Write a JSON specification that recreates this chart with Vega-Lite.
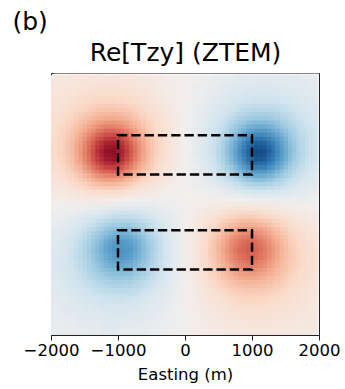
{
"$schema": "https://vega.github.io/schema/vega-lite/v6.json",
"width": 268,
"height": 262,
"autosize": {"type": "none"},
"padding": {"left": 51, "top": 73, "right": 26, "bottom": 54},
"background": "white",
"config": {"view": {"stroke": "#222", "strokeWidth": 1}, "font": "DejaVu Sans"},
"resolve": {"axis": {"x": "independent"}},
"datasets": {"grid": [
{"x":-1937.5,"y":1937.5,"v":-0.06},{"x":-1812.5,"y":1937.5,"v":-0.07},{"x":-1687.5,"y":1937.5,"v":-0.08},{"x":-1562.5,"y":1937.5,"v":-0.08},{"x":-1437.5,"y":1937.5,"v":-0.09},{"x":-1312.5,"y":1937.5,"v":-0.09},{"x":-1187.5,"y":1937.5,"v":-0.09},{"x":-1062.5,"y":1937.5,"v":-0.09},{"x":-937.5,"y":1937.5,"v":-0.09},{"x":-812.5,"y":1937.5,"v":-0.08},{"x":-687.5,"y":1937.5,"v":-0.07},{"x":-562.5,"y":1937.5,"v":-0.06},{"x":-437.5,"y":1937.5,"v":-0.05},{"x":-312.5,"y":1937.5,"v":-0.03},{"x":-187.5,"y":1937.5,"v":-0.02},{"x":-62.5,"y":1937.5,"v":-0.01},{"x":62.5,"y":1937.5,"v":0.01},{"x":187.5,"y":1937.5,"v":0.02},{"x":312.5,"y":1937.5,"v":0.03},{"x":437.5,"y":1937.5,"v":0.05},{"x":562.5,"y":1937.5,"v":0.06},{"x":687.5,"y":1937.5,"v":0.07},{"x":812.5,"y":1937.5,"v":0.08},{"x":937.5,"y":1937.5,"v":0.09},{"x":1062.5,"y":1937.5,"v":0.09},{"x":1187.5,"y":1937.5,"v":0.09},{"x":1312.5,"y":1937.5,"v":0.09},{"x":1437.5,"y":1937.5,"v":0.09},{"x":1562.5,"y":1937.5,"v":0.08},{"x":1687.5,"y":1937.5,"v":0.08},{"x":1812.5,"y":1937.5,"v":0.07},{"x":1937.5,"y":1937.5,"v":0.06},
{"x":-1937.5,"y":1812.5,"v":-0.07},{"x":-1812.5,"y":1812.5,"v":-0.08},{"x":-1687.5,"y":1812.5,"v":-0.09},{"x":-1562.5,"y":1812.5,"v":-0.1},{"x":-1437.5,"y":1812.5,"v":-0.11},{"x":-1312.5,"y":1812.5,"v":-0.12},{"x":-1187.5,"y":1812.5,"v":-0.12},{"x":-1062.5,"y":1812.5,"v":-0.12},{"x":-937.5,"y":1812.5,"v":-0.11},{"x":-812.5,"y":1812.5,"v":-0.1},{"x":-687.5,"y":1812.5,"v":-0.09},{"x":-562.5,"y":1812.5,"v":-0.08},{"x":-437.5,"y":1812.5,"v":-0.06},{"x":-312.5,"y":1812.5,"v":-0.04},{"x":-187.5,"y":1812.5,"v":-0.03},{"x":-62.5,"y":1812.5,"v":-0.01},{"x":62.5,"y":1812.5,"v":0.01},{"x":187.5,"y":1812.5,"v":0.03},{"x":312.5,"y":1812.5,"v":0.04},{"x":437.5,"y":1812.5,"v":0.06},{"x":562.5,"y":1812.5,"v":0.08},{"x":687.5,"y":1812.5,"v":0.09},{"x":812.5,"y":1812.5,"v":0.1},{"x":937.5,"y":1812.5,"v":0.11},{"x":1062.5,"y":1812.5,"v":0.12},{"x":1187.5,"y":1812.5,"v":0.12},{"x":1312.5,"y":1812.5,"v":0.12},{"x":1437.5,"y":1812.5,"v":0.11},{"x":1562.5,"y":1812.5,"v":0.1},{"x":1687.5,"y":1812.5,"v":0.09},{"x":1812.5,"y":1812.5,"v":0.08},{"x":1937.5,"y":1812.5,"v":0.07},
{"x":-1937.5,"y":1687.5,"v":-0.09},{"x":-1812.5,"y":1687.5,"v":-0.1},{"x":-1687.5,"y":1687.5,"v":-0.11},{"x":-1562.5,"y":1687.5,"v":-0.13},{"x":-1437.5,"y":1687.5,"v":-0.14},{"x":-1312.5,"y":1687.5,"v":-0.15},{"x":-1187.5,"y":1687.5,"v":-0.16},{"x":-1062.5,"y":1687.5,"v":-0.15},{"x":-937.5,"y":1687.5,"v":-0.15},{"x":-812.5,"y":1687.5,"v":-0.13},{"x":-687.5,"y":1687.5,"v":-0.12},{"x":-562.5,"y":1687.5,"v":-0.1},{"x":-437.5,"y":1687.5,"v":-0.07},{"x":-312.5,"y":1687.5,"v":-0.05},{"x":-187.5,"y":1687.5,"v":-0.03},{"x":-62.5,"y":1687.5,"v":-0.01},{"x":62.5,"y":1687.5,"v":0.01},{"x":187.5,"y":1687.5,"v":0.03},{"x":312.5,"y":1687.5,"v":0.05},{"x":437.5,"y":1687.5,"v":0.07},{"x":562.5,"y":1687.5,"v":0.1},{"x":687.5,"y":1687.5,"v":0.12},{"x":812.5,"y":1687.5,"v":0.13},{"x":937.5,"y":1687.5,"v":0.15},{"x":1062.5,"y":1687.5,"v":0.15},{"x":1187.5,"y":1687.5,"v":0.16},{"x":1312.5,"y":1687.5,"v":0.15},{"x":1437.5,"y":1687.5,"v":0.14},{"x":1562.5,"y":1687.5,"v":0.13},{"x":1687.5,"y":1687.5,"v":0.11},{"x":1812.5,"y":1687.5,"v":0.1},{"x":1937.5,"y":1687.5,"v":0.09},
{"x":-1937.5,"y":1562.5,"v":-0.1},{"x":-1812.5,"y":1562.5,"v":-0.12},{"x":-1687.5,"y":1562.5,"v":-0.14},{"x":-1562.5,"y":1562.5,"v":-0.16},{"x":-1437.5,"y":1562.5,"v":-0.18},{"x":-1312.5,"y":1562.5,"v":-0.2},{"x":-1187.5,"y":1562.5,"v":-0.2},{"x":-1062.5,"y":1562.5,"v":-0.2},{"x":-937.5,"y":1562.5,"v":-0.19},{"x":-812.5,"y":1562.5,"v":-0.17},{"x":-687.5,"y":1562.5,"v":-0.15},{"x":-562.5,"y":1562.5,"v":-0.12},{"x":-437.5,"y":1562.5,"v":-0.09},{"x":-312.5,"y":1562.5,"v":-0.07},{"x":-187.5,"y":1562.5,"v":-0.04},{"x":-62.5,"y":1562.5,"v":-0.01},{"x":62.5,"y":1562.5,"v":0.01},{"x":187.5,"y":1562.5,"v":0.04},{"x":312.5,"y":1562.5,"v":0.07},{"x":437.5,"y":1562.5,"v":0.09},{"x":562.5,"y":1562.5,"v":0.12},{"x":687.5,"y":1562.5,"v":0.15},{"x":812.5,"y":1562.5,"v":0.17},{"x":937.5,"y":1562.5,"v":0.19},{"x":1062.5,"y":1562.5,"v":0.2},{"x":1187.5,"y":1562.5,"v":0.2},{"x":1312.5,"y":1562.5,"v":0.2},{"x":1437.5,"y":1562.5,"v":0.18},{"x":1562.5,"y":1562.5,"v":0.16},{"x":1687.5,"y":1562.5,"v":0.14},{"x":1812.5,"y":1562.5,"v":0.12},{"x":1937.5,"y":1562.5,"v":0.1},
{"x":-1937.5,"y":1437.5,"v":-0.12},{"x":-1812.5,"y":1437.5,"v":-0.14},{"x":-1687.5,"y":1437.5,"v":-0.17},{"x":-1562.5,"y":1437.5,"v":-0.2},{"x":-1437.5,"y":1437.5,"v":-0.23},{"x":-1312.5,"y":1437.5,"v":-0.26},{"x":-1187.5,"y":1437.5,"v":-0.27},{"x":-1062.5,"y":1437.5,"v":-0.27},{"x":-937.5,"y":1437.5,"v":-0.26},{"x":-812.5,"y":1437.5,"v":-0.23},{"x":-687.5,"y":1437.5,"v":-0.19},{"x":-562.5,"y":1437.5,"v":-0.15},{"x":-437.5,"y":1437.5,"v":-0.12},{"x":-312.5,"y":1437.5,"v":-0.08},{"x":-187.5,"y":1437.5,"v":-0.05},{"x":-62.5,"y":1437.5,"v":-0.02},{"x":62.5,"y":1437.5,"v":0.02},{"x":187.5,"y":1437.5,"v":0.05},{"x":312.5,"y":1437.5,"v":0.08},{"x":437.5,"y":1437.5,"v":0.12},{"x":562.5,"y":1437.5,"v":0.15},{"x":687.5,"y":1437.5,"v":0.19},{"x":812.5,"y":1437.5,"v":0.23},{"x":937.5,"y":1437.5,"v":0.26},{"x":1062.5,"y":1437.5,"v":0.27},{"x":1187.5,"y":1437.5,"v":0.27},{"x":1312.5,"y":1437.5,"v":0.26},{"x":1437.5,"y":1437.5,"v":0.23},{"x":1562.5,"y":1437.5,"v":0.2},{"x":1687.5,"y":1437.5,"v":0.17},{"x":1812.5,"y":1437.5,"v":0.14},{"x":1937.5,"y":1437.5,"v":0.12},
{"x":-1937.5,"y":1312.5,"v":-0.13},{"x":-1812.5,"y":1312.5,"v":-0.16},{"x":-1687.5,"y":1312.5,"v":-0.2},{"x":-1562.5,"y":1312.5,"v":-0.25},{"x":-1437.5,"y":1312.5,"v":-0.29},{"x":-1312.5,"y":1312.5,"v":-0.34},{"x":-1187.5,"y":1312.5,"v":-0.36},{"x":-1062.5,"y":1312.5,"v":-0.36},{"x":-937.5,"y":1312.5,"v":-0.34},{"x":-812.5,"y":1312.5,"v":-0.3},{"x":-687.5,"y":1312.5,"v":-0.24},{"x":-562.5,"y":1312.5,"v":-0.19},{"x":-437.5,"y":1312.5,"v":-0.14},{"x":-312.5,"y":1312.5,"v":-0.1},{"x":-187.5,"y":1312.5,"v":-0.06},{"x":-62.5,"y":1312.5,"v":-0.02},{"x":62.5,"y":1312.5,"v":0.02},{"x":187.5,"y":1312.5,"v":0.06},{"x":312.5,"y":1312.5,"v":0.1},{"x":437.5,"y":1312.5,"v":0.14},{"x":562.5,"y":1312.5,"v":0.19},{"x":687.5,"y":1312.5,"v":0.24},{"x":812.5,"y":1312.5,"v":0.3},{"x":937.5,"y":1312.5,"v":0.34},{"x":1062.5,"y":1312.5,"v":0.36},{"x":1187.5,"y":1312.5,"v":0.36},{"x":1312.5,"y":1312.5,"v":0.34},{"x":1437.5,"y":1312.5,"v":0.29},{"x":1562.5,"y":1312.5,"v":0.25},{"x":1687.5,"y":1312.5,"v":0.2},{"x":1812.5,"y":1312.5,"v":0.16},{"x":1937.5,"y":1312.5,"v":0.13},
{"x":-1937.5,"y":1187.5,"v":-0.15},{"x":-1812.5,"y":1187.5,"v":-0.19},{"x":-1687.5,"y":1187.5,"v":-0.24},{"x":-1562.5,"y":1187.5,"v":-0.3},{"x":-1437.5,"y":1187.5,"v":-0.37},{"x":-1312.5,"y":1187.5,"v":-0.44},{"x":-1187.5,"y":1187.5,"v":-0.48},{"x":-1062.5,"y":1187.5,"v":-0.49},{"x":-937.5,"y":1187.5,"v":-0.45},{"x":-812.5,"y":1187.5,"v":-0.38},{"x":-687.5,"y":1187.5,"v":-0.31},{"x":-562.5,"y":1187.5,"v":-0.23},{"x":-437.5,"y":1187.5,"v":-0.17},{"x":-312.5,"y":1187.5,"v":-0.11},{"x":-187.5,"y":1187.5,"v":-0.06},{"x":-62.5,"y":1187.5,"v":-0.02},{"x":62.5,"y":1187.5,"v":0.02},{"x":187.5,"y":1187.5,"v":0.06},{"x":312.5,"y":1187.5,"v":0.11},{"x":437.5,"y":1187.5,"v":0.17},{"x":562.5,"y":1187.5,"v":0.23},{"x":687.5,"y":1187.5,"v":0.31},{"x":812.5,"y":1187.5,"v":0.38},{"x":937.5,"y":1187.5,"v":0.45},{"x":1062.5,"y":1187.5,"v":0.49},{"x":1187.5,"y":1187.5,"v":0.48},{"x":1312.5,"y":1187.5,"v":0.44},{"x":1437.5,"y":1187.5,"v":0.37},{"x":1562.5,"y":1187.5,"v":0.3},{"x":1687.5,"y":1187.5,"v":0.24},{"x":1812.5,"y":1187.5,"v":0.19},{"x":1937.5,"y":1187.5,"v":0.15},
{"x":-1937.5,"y":1062.5,"v":-0.16},{"x":-1812.5,"y":1062.5,"v":-0.21},{"x":-1687.5,"y":1062.5,"v":-0.27},{"x":-1562.5,"y":1062.5,"v":-0.36},{"x":-1437.5,"y":1062.5,"v":-0.46},{"x":-1312.5,"y":1062.5,"v":-0.56},{"x":-1187.5,"y":1062.5,"v":-0.63},{"x":-1062.5,"y":1062.5,"v":-0.64},{"x":-937.5,"y":1062.5,"v":-0.59},{"x":-812.5,"y":1062.5,"v":-0.48},{"x":-687.5,"y":1062.5,"v":-0.37},{"x":-562.5,"y":1062.5,"v":-0.27},{"x":-437.5,"y":1062.5,"v":-0.19},{"x":-312.5,"y":1062.5,"v":-0.13},{"x":-187.5,"y":1062.5,"v":-0.07},{"x":-62.5,"y":1062.5,"v":-0.02},{"x":62.5,"y":1062.5,"v":0.02},{"x":187.5,"y":1062.5,"v":0.07},{"x":312.5,"y":1062.5,"v":0.13},{"x":437.5,"y":1062.5,"v":0.19},{"x":562.5,"y":1062.5,"v":0.27},{"x":687.5,"y":1062.5,"v":0.37},{"x":812.5,"y":1062.5,"v":0.48},{"x":937.5,"y":1062.5,"v":0.59},{"x":1062.5,"y":1062.5,"v":0.64},{"x":1187.5,"y":1062.5,"v":0.63},{"x":1312.5,"y":1062.5,"v":0.56},{"x":1437.5,"y":1062.5,"v":0.46},{"x":1562.5,"y":1062.5,"v":0.36},{"x":1687.5,"y":1062.5,"v":0.27},{"x":1812.5,"y":1062.5,"v":0.21},{"x":1937.5,"y":1062.5,"v":0.16},
{"x":-1937.5,"y":937.5,"v":-0.17},{"x":-1812.5,"y":937.5,"v":-0.22},{"x":-1687.5,"y":937.5,"v":-0.3},{"x":-1562.5,"y":937.5,"v":-0.4},{"x":-1437.5,"y":937.5,"v":-0.53},{"x":-1312.5,"y":937.5,"v":-0.67},{"x":-1187.5,"y":937.5,"v":-0.78},{"x":-1062.5,"y":937.5,"v":-0.8},{"x":-937.5,"y":937.5,"v":-0.71},{"x":-812.5,"y":937.5,"v":-0.57},{"x":-687.5,"y":937.5,"v":-0.43},{"x":-562.5,"y":937.5,"v":-0.3},{"x":-437.5,"y":937.5,"v":-0.21},{"x":-312.5,"y":937.5,"v":-0.14},{"x":-187.5,"y":937.5,"v":-0.08},{"x":-62.5,"y":937.5,"v":-0.02},{"x":62.5,"y":937.5,"v":0.02},{"x":187.5,"y":937.5,"v":0.08},{"x":312.5,"y":937.5,"v":0.14},{"x":437.5,"y":937.5,"v":0.21},{"x":562.5,"y":937.5,"v":0.3},{"x":687.5,"y":937.5,"v":0.43},{"x":812.5,"y":937.5,"v":0.57},{"x":937.5,"y":937.5,"v":0.71},{"x":1062.5,"y":937.5,"v":0.8},{"x":1187.5,"y":937.5,"v":0.78},{"x":1312.5,"y":937.5,"v":0.67},{"x":1437.5,"y":937.5,"v":0.53},{"x":1562.5,"y":937.5,"v":0.4},{"x":1687.5,"y":937.5,"v":0.3},{"x":1812.5,"y":937.5,"v":0.22},{"x":1937.5,"y":937.5,"v":0.17},
{"x":-1937.5,"y":812.5,"v":-0.17},{"x":-1812.5,"y":812.5,"v":-0.22},{"x":-1687.5,"y":812.5,"v":-0.3},{"x":-1562.5,"y":812.5,"v":-0.42},{"x":-1437.5,"y":812.5,"v":-0.56},{"x":-1312.5,"y":812.5,"v":-0.73},{"x":-1187.5,"y":812.5,"v":-0.86},{"x":-1062.5,"y":812.5,"v":-0.88},{"x":-937.5,"y":812.5,"v":-0.78},{"x":-812.5,"y":812.5,"v":-0.61},{"x":-687.5,"y":812.5,"v":-0.45},{"x":-562.5,"y":812.5,"v":-0.32},{"x":-437.5,"y":812.5,"v":-0.21},{"x":-312.5,"y":812.5,"v":-0.14},{"x":-187.5,"y":812.5,"v":-0.08},{"x":-62.5,"y":812.5,"v":-0.02},{"x":62.5,"y":812.5,"v":0.02},{"x":187.5,"y":812.5,"v":0.08},{"x":312.5,"y":812.5,"v":0.14},{"x":437.5,"y":812.5,"v":0.21},{"x":562.5,"y":812.5,"v":0.32},{"x":687.5,"y":812.5,"v":0.45},{"x":812.5,"y":812.5,"v":0.61},{"x":937.5,"y":812.5,"v":0.78},{"x":1062.5,"y":812.5,"v":0.88},{"x":1187.5,"y":812.5,"v":0.86},{"x":1312.5,"y":812.5,"v":0.73},{"x":1437.5,"y":812.5,"v":0.56},{"x":1562.5,"y":812.5,"v":0.42},{"x":1687.5,"y":812.5,"v":0.3},{"x":1812.5,"y":812.5,"v":0.22},{"x":1937.5,"y":812.5,"v":0.17},
{"x":-1937.5,"y":687.5,"v":-0.16},{"x":-1812.5,"y":687.5,"v":-0.21},{"x":-1687.5,"y":687.5,"v":-0.29},{"x":-1562.5,"y":687.5,"v":-0.4},{"x":-1437.5,"y":687.5,"v":-0.54},{"x":-1312.5,"y":687.5,"v":-0.69},{"x":-1187.5,"y":687.5,"v":-0.81},{"x":-1062.5,"y":687.5,"v":-0.84},{"x":-937.5,"y":687.5,"v":-0.74},{"x":-812.5,"y":687.5,"v":-0.58},{"x":-687.5,"y":687.5,"v":-0.43},{"x":-562.5,"y":687.5,"v":-0.3},{"x":-437.5,"y":687.5,"v":-0.2},{"x":-312.5,"y":687.5,"v":-0.13},{"x":-187.5,"y":687.5,"v":-0.07},{"x":-62.5,"y":687.5,"v":-0.02},{"x":62.5,"y":687.5,"v":0.02},{"x":187.5,"y":687.5,"v":0.07},{"x":312.5,"y":687.5,"v":0.13},{"x":437.5,"y":687.5,"v":0.2},{"x":562.5,"y":687.5,"v":0.3},{"x":687.5,"y":687.5,"v":0.43},{"x":812.5,"y":687.5,"v":0.58},{"x":937.5,"y":687.5,"v":0.74},{"x":1062.5,"y":687.5,"v":0.84},{"x":1187.5,"y":687.5,"v":0.81},{"x":1312.5,"y":687.5,"v":0.69},{"x":1437.5,"y":687.5,"v":0.54},{"x":1562.5,"y":687.5,"v":0.4},{"x":1687.5,"y":687.5,"v":0.29},{"x":1812.5,"y":687.5,"v":0.21},{"x":1937.5,"y":687.5,"v":0.16},
{"x":-1937.5,"y":562.5,"v":-0.14},{"x":-1812.5,"y":562.5,"v":-0.19},{"x":-1687.5,"y":562.5,"v":-0.25},{"x":-1562.5,"y":562.5,"v":-0.34},{"x":-1437.5,"y":562.5,"v":-0.46},{"x":-1312.5,"y":562.5,"v":-0.58},{"x":-1187.5,"y":562.5,"v":-0.67},{"x":-1062.5,"y":562.5,"v":-0.68},{"x":-937.5,"y":562.5,"v":-0.61},{"x":-812.5,"y":562.5,"v":-0.49},{"x":-687.5,"y":562.5,"v":-0.36},{"x":-562.5,"y":562.5,"v":-0.26},{"x":-437.5,"y":562.5,"v":-0.18},{"x":-312.5,"y":562.5,"v":-0.11},{"x":-187.5,"y":562.5,"v":-0.06},{"x":-62.5,"y":562.5,"v":-0.02},{"x":62.5,"y":562.5,"v":0.02},{"x":187.5,"y":562.5,"v":0.06},{"x":312.5,"y":562.5,"v":0.11},{"x":437.5,"y":562.5,"v":0.18},{"x":562.5,"y":562.5,"v":0.26},{"x":687.5,"y":562.5,"v":0.36},{"x":812.5,"y":562.5,"v":0.49},{"x":937.5,"y":562.5,"v":0.61},{"x":1062.5,"y":562.5,"v":0.68},{"x":1187.5,"y":562.5,"v":0.67},{"x":1312.5,"y":562.5,"v":0.58},{"x":1437.5,"y":562.5,"v":0.46},{"x":1562.5,"y":562.5,"v":0.34},{"x":1687.5,"y":562.5,"v":0.25},{"x":1812.5,"y":562.5,"v":0.19},{"x":1937.5,"y":562.5,"v":0.14},
{"x":-1937.5,"y":437.5,"v":-0.11},{"x":-1812.5,"y":437.5,"v":-0.15},{"x":-1687.5,"y":437.5,"v":-0.2},{"x":-1562.5,"y":437.5,"v":-0.27},{"x":-1437.5,"y":437.5,"v":-0.35},{"x":-1312.5,"y":437.5,"v":-0.43},{"x":-1187.5,"y":437.5,"v":-0.48},{"x":-1062.5,"y":437.5,"v":-0.49},{"x":-937.5,"y":437.5,"v":-0.44},{"x":-812.5,"y":437.5,"v":-0.36},{"x":-687.5,"y":437.5,"v":-0.28},{"x":-562.5,"y":437.5,"v":-0.2},{"x":-437.5,"y":437.5,"v":-0.14},{"x":-312.5,"y":437.5,"v":-0.09},{"x":-187.5,"y":437.5,"v":-0.05},{"x":-62.5,"y":437.5,"v":-0.02},{"x":62.5,"y":437.5,"v":0.02},{"x":187.5,"y":437.5,"v":0.05},{"x":312.5,"y":437.5,"v":0.09},{"x":437.5,"y":437.5,"v":0.14},{"x":562.5,"y":437.5,"v":0.2},{"x":687.5,"y":437.5,"v":0.28},{"x":812.5,"y":437.5,"v":0.36},{"x":937.5,"y":437.5,"v":0.44},{"x":1062.5,"y":437.5,"v":0.49},{"x":1187.5,"y":437.5,"v":0.48},{"x":1312.5,"y":437.5,"v":0.43},{"x":1437.5,"y":437.5,"v":0.35},{"x":1562.5,"y":437.5,"v":0.27},{"x":1687.5,"y":437.5,"v":0.2},{"x":1812.5,"y":437.5,"v":0.15},{"x":1937.5,"y":437.5,"v":0.11},
{"x":-1937.5,"y":312.5,"v":-0.08},{"x":-1812.5,"y":312.5,"v":-0.11},{"x":-1687.5,"y":312.5,"v":-0.15},{"x":-1562.5,"y":312.5,"v":-0.19},{"x":-1437.5,"y":312.5,"v":-0.24},{"x":-1312.5,"y":312.5,"v":-0.28},{"x":-1187.5,"y":312.5,"v":-0.31},{"x":-1062.5,"y":312.5,"v":-0.31},{"x":-937.5,"y":312.5,"v":-0.28},{"x":-812.5,"y":312.5,"v":-0.23},{"x":-687.5,"y":312.5,"v":-0.18},{"x":-562.5,"y":312.5,"v":-0.13},{"x":-437.5,"y":312.5,"v":-0.09},{"x":-312.5,"y":312.5,"v":-0.06},{"x":-187.5,"y":312.5,"v":-0.03},{"x":-62.5,"y":312.5,"v":-0.01},{"x":62.5,"y":312.5,"v":0.01},{"x":187.5,"y":312.5,"v":0.03},{"x":312.5,"y":312.5,"v":0.06},{"x":437.5,"y":312.5,"v":0.09},{"x":562.5,"y":312.5,"v":0.13},{"x":687.5,"y":312.5,"v":0.18},{"x":812.5,"y":312.5,"v":0.23},{"x":937.5,"y":312.5,"v":0.28},{"x":1062.5,"y":312.5,"v":0.31},{"x":1187.5,"y":312.5,"v":0.31},{"x":1312.5,"y":312.5,"v":0.28},{"x":1437.5,"y":312.5,"v":0.24},{"x":1562.5,"y":312.5,"v":0.19},{"x":1687.5,"y":312.5,"v":0.15},{"x":1812.5,"y":312.5,"v":0.11},{"x":1937.5,"y":312.5,"v":0.08},
{"x":-1937.5,"y":187.5,"v":-0.05},{"x":-1812.5,"y":187.5,"v":-0.07},{"x":-1687.5,"y":187.5,"v":-0.09},{"x":-1562.5,"y":187.5,"v":-0.11},{"x":-1437.5,"y":187.5,"v":-0.13},{"x":-1312.5,"y":187.5,"v":-0.15},{"x":-1187.5,"y":187.5,"v":-0.16},{"x":-1062.5,"y":187.5,"v":-0.16},{"x":-937.5,"y":187.5,"v":-0.14},{"x":-812.5,"y":187.5,"v":-0.11},{"x":-687.5,"y":187.5,"v":-0.08},{"x":-562.5,"y":187.5,"v":-0.06},{"x":-437.5,"y":187.5,"v":-0.04},{"x":-312.5,"y":187.5,"v":-0.02},{"x":-187.5,"y":187.5,"v":-0.01},{"x":-62.5,"y":187.5,"v":0},{"x":62.5,"y":187.5,"v":0},{"x":187.5,"y":187.5,"v":0.01},{"x":312.5,"y":187.5,"v":0.02},{"x":437.5,"y":187.5,"v":0.04},{"x":562.5,"y":187.5,"v":0.06},{"x":687.5,"y":187.5,"v":0.08},{"x":812.5,"y":187.5,"v":0.11},{"x":937.5,"y":187.5,"v":0.14},{"x":1062.5,"y":187.5,"v":0.16},{"x":1187.5,"y":187.5,"v":0.16},{"x":1312.5,"y":187.5,"v":0.15},{"x":1437.5,"y":187.5,"v":0.13},{"x":1562.5,"y":187.5,"v":0.11},{"x":1687.5,"y":187.5,"v":0.09},{"x":1812.5,"y":187.5,"v":0.07},{"x":1937.5,"y":187.5,"v":0.05},
{"x":-1937.5,"y":62.5,"v":-0.02},{"x":-1812.5,"y":62.5,"v":-0.03},{"x":-1687.5,"y":62.5,"v":-0.03},{"x":-1562.5,"y":62.5,"v":-0.04},{"x":-1437.5,"y":62.5,"v":-0.04},{"x":-1312.5,"y":62.5,"v":-0.04},{"x":-1187.5,"y":62.5,"v":-0.03},{"x":-1062.5,"y":62.5,"v":-0.03},{"x":-937.5,"y":62.5,"v":-0.01},{"x":-812.5,"y":62.5,"v":0},{"x":-687.5,"y":62.5,"v":0.01},{"x":-562.5,"y":62.5,"v":0.01},{"x":-437.5,"y":62.5,"v":0.02},{"x":-312.5,"y":62.5,"v":0.01},{"x":-187.5,"y":62.5,"v":0.01},{"x":-62.5,"y":62.5,"v":0},{"x":62.5,"y":62.5,"v":0},{"x":187.5,"y":62.5,"v":-0.01},{"x":312.5,"y":62.5,"v":-0.01},{"x":437.5,"y":62.5,"v":-0.02},{"x":562.5,"y":62.5,"v":-0.01},{"x":687.5,"y":62.5,"v":-0.01},{"x":812.5,"y":62.5,"v":0},{"x":937.5,"y":62.5,"v":0.01},{"x":1062.5,"y":62.5,"v":0.03},{"x":1187.5,"y":62.5,"v":0.03},{"x":1312.5,"y":62.5,"v":0.04},{"x":1437.5,"y":62.5,"v":0.04},{"x":1562.5,"y":62.5,"v":0.04},{"x":1687.5,"y":62.5,"v":0.03},{"x":1812.5,"y":62.5,"v":0.03},{"x":1937.5,"y":62.5,"v":0.02},
{"x":-1937.5,"y":-62.5,"v":0.01},{"x":-1812.5,"y":-62.5,"v":0.02},{"x":-1687.5,"y":-62.5,"v":0.02},{"x":-1562.5,"y":-62.5,"v":0.03},{"x":-1437.5,"y":-62.5,"v":0.05},{"x":-1312.5,"y":-62.5,"v":0.06},{"x":-1187.5,"y":-62.5,"v":0.08},{"x":-1062.5,"y":-62.5,"v":0.1},{"x":-937.5,"y":-62.5,"v":0.11},{"x":-812.5,"y":-62.5,"v":0.11},{"x":-687.5,"y":-62.5,"v":0.1},{"x":-562.5,"y":-62.5,"v":0.09},{"x":-437.5,"y":-62.5,"v":0.07},{"x":-312.5,"y":-62.5,"v":0.05},{"x":-187.5,"y":-62.5,"v":0.03},{"x":-62.5,"y":-62.5,"v":0.01},{"x":62.5,"y":-62.5,"v":-0.01},{"x":187.5,"y":-62.5,"v":-0.03},{"x":312.5,"y":-62.5,"v":-0.05},{"x":437.5,"y":-62.5,"v":-0.07},{"x":562.5,"y":-62.5,"v":-0.09},{"x":687.5,"y":-62.5,"v":-0.1},{"x":812.5,"y":-62.5,"v":-0.11},{"x":937.5,"y":-62.5,"v":-0.11},{"x":1062.5,"y":-62.5,"v":-0.1},{"x":1187.5,"y":-62.5,"v":-0.08},{"x":1312.5,"y":-62.5,"v":-0.06},{"x":1437.5,"y":-62.5,"v":-0.05},{"x":1562.5,"y":-62.5,"v":-0.03},{"x":1687.5,"y":-62.5,"v":-0.02},{"x":1812.5,"y":-62.5,"v":-0.02},{"x":1937.5,"y":-62.5,"v":-0.01},
{"x":-1937.5,"y":-187.5,"v":0.04},{"x":-1812.5,"y":-187.5,"v":0.05},{"x":-1687.5,"y":-187.5,"v":0.07},{"x":-1562.5,"y":-187.5,"v":0.1},{"x":-1437.5,"y":-187.5,"v":0.13},{"x":-1312.5,"y":-187.5,"v":0.16},{"x":-1187.5,"y":-187.5,"v":0.19},{"x":-1062.5,"y":-187.5,"v":0.22},{"x":-937.5,"y":-187.5,"v":0.23},{"x":-812.5,"y":-187.5,"v":0.22},{"x":-687.5,"y":-187.5,"v":0.2},{"x":-562.5,"y":-187.5,"v":0.16},{"x":-437.5,"y":-187.5,"v":0.12},{"x":-312.5,"y":-187.5,"v":0.09},{"x":-187.5,"y":-187.5,"v":0.05},{"x":-62.5,"y":-187.5,"v":0.02},{"x":62.5,"y":-187.5,"v":-0.02},{"x":187.5,"y":-187.5,"v":-0.05},{"x":312.5,"y":-187.5,"v":-0.09},{"x":437.5,"y":-187.5,"v":-0.12},{"x":562.5,"y":-187.5,"v":-0.16},{"x":687.5,"y":-187.5,"v":-0.2},{"x":812.5,"y":-187.5,"v":-0.22},{"x":937.5,"y":-187.5,"v":-0.23},{"x":1062.5,"y":-187.5,"v":-0.22},{"x":1187.5,"y":-187.5,"v":-0.19},{"x":1312.5,"y":-187.5,"v":-0.16},{"x":1437.5,"y":-187.5,"v":-0.13},{"x":1562.5,"y":-187.5,"v":-0.1},{"x":1687.5,"y":-187.5,"v":-0.07},{"x":1812.5,"y":-187.5,"v":-0.05},{"x":1937.5,"y":-187.5,"v":-0.04},
{"x":-1937.5,"y":-312.5,"v":0.06},{"x":-1812.5,"y":-312.5,"v":0.09},{"x":-1687.5,"y":-312.5,"v":0.12},{"x":-1562.5,"y":-312.5,"v":0.15},{"x":-1437.5,"y":-312.5,"v":0.2},{"x":-1312.5,"y":-312.5,"v":0.25},{"x":-1187.5,"y":-312.5,"v":0.3},{"x":-1062.5,"y":-312.5,"v":0.34},{"x":-937.5,"y":-312.5,"v":0.35},{"x":-812.5,"y":-312.5,"v":0.34},{"x":-687.5,"y":-312.5,"v":0.29},{"x":-562.5,"y":-312.5,"v":0.24},{"x":-437.5,"y":-312.5,"v":0.18},{"x":-312.5,"y":-312.5,"v":0.12},{"x":-187.5,"y":-312.5,"v":0.07},{"x":-62.5,"y":-312.5,"v":0.02},{"x":62.5,"y":-312.5,"v":-0.02},{"x":187.5,"y":-312.5,"v":-0.07},{"x":312.5,"y":-312.5,"v":-0.12},{"x":437.5,"y":-312.5,"v":-0.18},{"x":562.5,"y":-312.5,"v":-0.24},{"x":687.5,"y":-312.5,"v":-0.29},{"x":812.5,"y":-312.5,"v":-0.34},{"x":937.5,"y":-312.5,"v":-0.35},{"x":1062.5,"y":-312.5,"v":-0.34},{"x":1187.5,"y":-312.5,"v":-0.3},{"x":1312.5,"y":-312.5,"v":-0.25},{"x":1437.5,"y":-312.5,"v":-0.2},{"x":1562.5,"y":-312.5,"v":-0.15},{"x":1687.5,"y":-312.5,"v":-0.12},{"x":1812.5,"y":-312.5,"v":-0.09},{"x":1937.5,"y":-312.5,"v":-0.06},
{"x":-1937.5,"y":-437.5,"v":0.09},{"x":-1812.5,"y":-437.5,"v":0.11},{"x":-1687.5,"y":-437.5,"v":0.15},{"x":-1562.5,"y":-437.5,"v":0.2},{"x":-1437.5,"y":-437.5,"v":0.26},{"x":-1312.5,"y":-437.5,"v":0.33},{"x":-1187.5,"y":-437.5,"v":0.4},{"x":-1062.5,"y":-437.5,"v":0.45},{"x":-937.5,"y":-437.5,"v":0.47},{"x":-812.5,"y":-437.5,"v":0.44},{"x":-687.5,"y":-437.5,"v":0.38},{"x":-562.5,"y":-437.5,"v":0.3},{"x":-437.5,"y":-437.5,"v":0.22},{"x":-312.5,"y":-437.5,"v":0.15},{"x":-187.5,"y":-437.5,"v":0.09},{"x":-62.5,"y":-437.5,"v":0.03},{"x":62.5,"y":-437.5,"v":-0.03},{"x":187.5,"y":-437.5,"v":-0.09},{"x":312.5,"y":-437.5,"v":-0.15},{"x":437.5,"y":-437.5,"v":-0.22},{"x":562.5,"y":-437.5,"v":-0.3},{"x":687.5,"y":-437.5,"v":-0.38},{"x":812.5,"y":-437.5,"v":-0.44},{"x":937.5,"y":-437.5,"v":-0.47},{"x":1062.5,"y":-437.5,"v":-0.45},{"x":1187.5,"y":-437.5,"v":-0.4},{"x":1312.5,"y":-437.5,"v":-0.33},{"x":1437.5,"y":-437.5,"v":-0.26},{"x":1562.5,"y":-437.5,"v":-0.2},{"x":1687.5,"y":-437.5,"v":-0.15},{"x":1812.5,"y":-437.5,"v":-0.11},{"x":1937.5,"y":-437.5,"v":-0.09},
{"x":-1937.5,"y":-562.5,"v":0.1},{"x":-1812.5,"y":-562.5,"v":0.13},{"x":-1687.5,"y":-562.5,"v":0.18},{"x":-1562.5,"y":-562.5,"v":0.23},{"x":-1437.5,"y":-562.5,"v":0.31},{"x":-1312.5,"y":-562.5,"v":0.39},{"x":-1187.5,"y":-562.5,"v":0.48},{"x":-1062.5,"y":-562.5,"v":0.54},{"x":-937.5,"y":-562.5,"v":0.56},{"x":-812.5,"y":-562.5,"v":0.52},{"x":-687.5,"y":-562.5,"v":0.45},{"x":-562.5,"y":-562.5,"v":0.35},{"x":-437.5,"y":-562.5,"v":0.26},{"x":-312.5,"y":-562.5,"v":0.17},{"x":-187.5,"y":-562.5,"v":0.1},{"x":-62.5,"y":-562.5,"v":0.03},{"x":62.5,"y":-562.5,"v":-0.03},{"x":187.5,"y":-562.5,"v":-0.1},{"x":312.5,"y":-562.5,"v":-0.17},{"x":437.5,"y":-562.5,"v":-0.26},{"x":562.5,"y":-562.5,"v":-0.35},{"x":687.5,"y":-562.5,"v":-0.45},{"x":812.5,"y":-562.5,"v":-0.52},{"x":937.5,"y":-562.5,"v":-0.56},{"x":1062.5,"y":-562.5,"v":-0.54},{"x":1187.5,"y":-562.5,"v":-0.48},{"x":1312.5,"y":-562.5,"v":-0.39},{"x":1437.5,"y":-562.5,"v":-0.31},{"x":1562.5,"y":-562.5,"v":-0.23},{"x":1687.5,"y":-562.5,"v":-0.18},{"x":1812.5,"y":-562.5,"v":-0.13},{"x":1937.5,"y":-562.5,"v":-0.1},
{"x":-1937.5,"y":-687.5,"v":0.11},{"x":-1812.5,"y":-687.5,"v":0.15},{"x":-1687.5,"y":-687.5,"v":0.19},{"x":-1562.5,"y":-687.5,"v":0.25},{"x":-1437.5,"y":-687.5,"v":0.33},{"x":-1312.5,"y":-687.5,"v":0.42},{"x":-1187.5,"y":-687.5,"v":0.51},{"x":-1062.5,"y":-687.5,"v":0.57},{"x":-937.5,"y":-687.5,"v":0.59},{"x":-812.5,"y":-687.5,"v":0.56},{"x":-687.5,"y":-687.5,"v":0.47},{"x":-562.5,"y":-687.5,"v":0.37},{"x":-437.5,"y":-687.5,"v":0.27},{"x":-312.5,"y":-687.5,"v":0.18},{"x":-187.5,"y":-687.5,"v":0.1},{"x":-62.5,"y":-687.5,"v":0.03},{"x":62.5,"y":-687.5,"v":-0.03},{"x":187.5,"y":-687.5,"v":-0.1},{"x":312.5,"y":-687.5,"v":-0.18},{"x":437.5,"y":-687.5,"v":-0.27},{"x":562.5,"y":-687.5,"v":-0.37},{"x":687.5,"y":-687.5,"v":-0.47},{"x":812.5,"y":-687.5,"v":-0.56},{"x":937.5,"y":-687.5,"v":-0.59},{"x":1062.5,"y":-687.5,"v":-0.57},{"x":1187.5,"y":-687.5,"v":-0.51},{"x":1312.5,"y":-687.5,"v":-0.42},{"x":1437.5,"y":-687.5,"v":-0.33},{"x":1562.5,"y":-687.5,"v":-0.25},{"x":1687.5,"y":-687.5,"v":-0.19},{"x":1812.5,"y":-687.5,"v":-0.15},{"x":1937.5,"y":-687.5,"v":-0.11},
{"x":-1937.5,"y":-812.5,"v":0.12},{"x":-1812.5,"y":-812.5,"v":0.15},{"x":-1687.5,"y":-812.5,"v":0.2},{"x":-1562.5,"y":-812.5,"v":0.25},{"x":-1437.5,"y":-812.5,"v":0.32},{"x":-1312.5,"y":-812.5,"v":0.41},{"x":-1187.5,"y":-812.5,"v":0.49},{"x":-1062.5,"y":-812.5,"v":0.55},{"x":-937.5,"y":-812.5,"v":0.57},{"x":-812.5,"y":-812.5,"v":0.53},{"x":-687.5,"y":-812.5,"v":0.45},{"x":-562.5,"y":-812.5,"v":0.36},{"x":-437.5,"y":-812.5,"v":0.26},{"x":-312.5,"y":-812.5,"v":0.18},{"x":-187.5,"y":-812.5,"v":0.1},{"x":-62.5,"y":-812.5,"v":0.03},{"x":62.5,"y":-812.5,"v":-0.03},{"x":187.5,"y":-812.5,"v":-0.1},{"x":312.5,"y":-812.5,"v":-0.18},{"x":437.5,"y":-812.5,"v":-0.26},{"x":562.5,"y":-812.5,"v":-0.36},{"x":687.5,"y":-812.5,"v":-0.45},{"x":812.5,"y":-812.5,"v":-0.53},{"x":937.5,"y":-812.5,"v":-0.57},{"x":1062.5,"y":-812.5,"v":-0.55},{"x":1187.5,"y":-812.5,"v":-0.49},{"x":1312.5,"y":-812.5,"v":-0.41},{"x":1437.5,"y":-812.5,"v":-0.32},{"x":1562.5,"y":-812.5,"v":-0.25},{"x":1687.5,"y":-812.5,"v":-0.2},{"x":1812.5,"y":-812.5,"v":-0.15},{"x":1937.5,"y":-812.5,"v":-0.12},
{"x":-1937.5,"y":-937.5,"v":0.12},{"x":-1812.5,"y":-937.5,"v":0.15},{"x":-1687.5,"y":-937.5,"v":0.19},{"x":-1562.5,"y":-937.5,"v":0.24},{"x":-1437.5,"y":-937.5,"v":0.3},{"x":-1312.5,"y":-937.5,"v":0.37},{"x":-1187.5,"y":-937.5,"v":0.44},{"x":-1062.5,"y":-937.5,"v":0.48},{"x":-937.5,"y":-937.5,"v":0.5},{"x":-812.5,"y":-937.5,"v":0.47},{"x":-687.5,"y":-937.5,"v":0.4},{"x":-562.5,"y":-937.5,"v":0.32},{"x":-437.5,"y":-937.5,"v":0.24},{"x":-312.5,"y":-937.5,"v":0.17},{"x":-187.5,"y":-937.5,"v":0.1},{"x":-62.5,"y":-937.5,"v":0.03},{"x":62.5,"y":-937.5,"v":-0.03},{"x":187.5,"y":-937.5,"v":-0.1},{"x":312.5,"y":-937.5,"v":-0.17},{"x":437.5,"y":-937.5,"v":-0.24},{"x":562.5,"y":-937.5,"v":-0.32},{"x":687.5,"y":-937.5,"v":-0.4},{"x":812.5,"y":-937.5,"v":-0.47},{"x":937.5,"y":-937.5,"v":-0.5},{"x":1062.5,"y":-937.5,"v":-0.48},{"x":1187.5,"y":-937.5,"v":-0.44},{"x":1312.5,"y":-937.5,"v":-0.37},{"x":1437.5,"y":-937.5,"v":-0.3},{"x":1562.5,"y":-937.5,"v":-0.24},{"x":1687.5,"y":-937.5,"v":-0.19},{"x":1812.5,"y":-937.5,"v":-0.15},{"x":1937.5,"y":-937.5,"v":-0.12},
{"x":-1937.5,"y":-1062.5,"v":0.11},{"x":-1812.5,"y":-1062.5,"v":0.14},{"x":-1687.5,"y":-1062.5,"v":0.17},{"x":-1562.5,"y":-1062.5,"v":0.22},{"x":-1437.5,"y":-1062.5,"v":0.27},{"x":-1312.5,"y":-1062.5,"v":0.32},{"x":-1187.5,"y":-1062.5,"v":0.37},{"x":-1062.5,"y":-1062.5,"v":0.4},{"x":-937.5,"y":-1062.5,"v":0.41},{"x":-812.5,"y":-1062.5,"v":0.39},{"x":-687.5,"y":-1062.5,"v":0.34},{"x":-562.5,"y":-1062.5,"v":0.28},{"x":-437.5,"y":-1062.5,"v":0.21},{"x":-312.5,"y":-1062.5,"v":0.15},{"x":-187.5,"y":-1062.5,"v":0.09},{"x":-62.5,"y":-1062.5,"v":0.03},{"x":62.5,"y":-1062.5,"v":-0.03},{"x":187.5,"y":-1062.5,"v":-0.09},{"x":312.5,"y":-1062.5,"v":-0.15},{"x":437.5,"y":-1062.5,"v":-0.21},{"x":562.5,"y":-1062.5,"v":-0.28},{"x":687.5,"y":-1062.5,"v":-0.34},{"x":812.5,"y":-1062.5,"v":-0.39},{"x":937.5,"y":-1062.5,"v":-0.41},{"x":1062.5,"y":-1062.5,"v":-0.4},{"x":1187.5,"y":-1062.5,"v":-0.37},{"x":1312.5,"y":-1062.5,"v":-0.32},{"x":1437.5,"y":-1062.5,"v":-0.27},{"x":1562.5,"y":-1062.5,"v":-0.22},{"x":1687.5,"y":-1062.5,"v":-0.17},{"x":1812.5,"y":-1062.5,"v":-0.14},{"x":1937.5,"y":-1062.5,"v":-0.11},
{"x":-1937.5,"y":-1187.5,"v":0.1},{"x":-1812.5,"y":-1187.5,"v":0.13},{"x":-1687.5,"y":-1187.5,"v":0.16},{"x":-1562.5,"y":-1187.5,"v":0.19},{"x":-1437.5,"y":-1187.5,"v":0.23},{"x":-1312.5,"y":-1187.5,"v":0.27},{"x":-1187.5,"y":-1187.5,"v":0.3},{"x":-1062.5,"y":-1187.5,"v":0.32},{"x":-937.5,"y":-1187.5,"v":0.32},{"x":-812.5,"y":-1187.5,"v":0.31},{"x":-687.5,"y":-1187.5,"v":0.27},{"x":-562.5,"y":-1187.5,"v":0.23},{"x":-437.5,"y":-1187.5,"v":0.18},{"x":-312.5,"y":-1187.5,"v":0.12},{"x":-187.5,"y":-1187.5,"v":0.07},{"x":-62.5,"y":-1187.5,"v":0.02},{"x":62.5,"y":-1187.5,"v":-0.02},{"x":187.5,"y":-1187.5,"v":-0.07},{"x":312.5,"y":-1187.5,"v":-0.12},{"x":437.5,"y":-1187.5,"v":-0.18},{"x":562.5,"y":-1187.5,"v":-0.23},{"x":687.5,"y":-1187.5,"v":-0.27},{"x":812.5,"y":-1187.5,"v":-0.31},{"x":937.5,"y":-1187.5,"v":-0.32},{"x":1062.5,"y":-1187.5,"v":-0.32},{"x":1187.5,"y":-1187.5,"v":-0.3},{"x":1312.5,"y":-1187.5,"v":-0.27},{"x":1437.5,"y":-1187.5,"v":-0.23},{"x":1562.5,"y":-1187.5,"v":-0.19},{"x":1687.5,"y":-1187.5,"v":-0.16},{"x":1812.5,"y":-1187.5,"v":-0.13},{"x":1937.5,"y":-1187.5,"v":-0.1},
{"x":-1937.5,"y":-1312.5,"v":0.09},{"x":-1812.5,"y":-1312.5,"v":0.11},{"x":-1687.5,"y":-1312.5,"v":0.14},{"x":-1562.5,"y":-1312.5,"v":0.16},{"x":-1437.5,"y":-1312.5,"v":0.19},{"x":-1312.5,"y":-1312.5,"v":0.22},{"x":-1187.5,"y":-1312.5,"v":0.24},{"x":-1062.5,"y":-1312.5,"v":0.25},{"x":-937.5,"y":-1312.5,"v":0.25},{"x":-812.5,"y":-1312.5,"v":0.24},{"x":-687.5,"y":-1312.5,"v":0.22},{"x":-562.5,"y":-1312.5,"v":0.18},{"x":-437.5,"y":-1312.5,"v":0.14},{"x":-312.5,"y":-1312.5,"v":0.1},{"x":-187.5,"y":-1312.5,"v":0.06},{"x":-62.5,"y":-1312.5,"v":0.02},{"x":62.5,"y":-1312.5,"v":-0.02},{"x":187.5,"y":-1312.5,"v":-0.06},{"x":312.5,"y":-1312.5,"v":-0.1},{"x":437.5,"y":-1312.5,"v":-0.14},{"x":562.5,"y":-1312.5,"v":-0.18},{"x":687.5,"y":-1312.5,"v":-0.22},{"x":812.5,"y":-1312.5,"v":-0.24},{"x":937.5,"y":-1312.5,"v":-0.25},{"x":1062.5,"y":-1312.5,"v":-0.25},{"x":1187.5,"y":-1312.5,"v":-0.24},{"x":1312.5,"y":-1312.5,"v":-0.22},{"x":1437.5,"y":-1312.5,"v":-0.19},{"x":1562.5,"y":-1312.5,"v":-0.16},{"x":1687.5,"y":-1312.5,"v":-0.14},{"x":1812.5,"y":-1312.5,"v":-0.11},{"x":1937.5,"y":-1312.5,"v":-0.09},
{"x":-1937.5,"y":-1437.5,"v":0.08},{"x":-1812.5,"y":-1437.5,"v":0.1},{"x":-1687.5,"y":-1437.5,"v":0.12},{"x":-1562.5,"y":-1437.5,"v":0.14},{"x":-1437.5,"y":-1437.5,"v":0.16},{"x":-1312.5,"y":-1437.5,"v":0.17},{"x":-1187.5,"y":-1437.5,"v":0.19},{"x":-1062.5,"y":-1437.5,"v":0.2},{"x":-937.5,"y":-1437.5,"v":0.2},{"x":-812.5,"y":-1437.5,"v":0.19},{"x":-687.5,"y":-1437.5,"v":0.17},{"x":-562.5,"y":-1437.5,"v":0.14},{"x":-437.5,"y":-1437.5,"v":0.11},{"x":-312.5,"y":-1437.5,"v":0.08},{"x":-187.5,"y":-1437.5,"v":0.05},{"x":-62.5,"y":-1437.5,"v":0.02},{"x":62.5,"y":-1437.5,"v":-0.02},{"x":187.5,"y":-1437.5,"v":-0.05},{"x":312.5,"y":-1437.5,"v":-0.08},{"x":437.5,"y":-1437.5,"v":-0.11},{"x":562.5,"y":-1437.5,"v":-0.14},{"x":687.5,"y":-1437.5,"v":-0.17},{"x":812.5,"y":-1437.5,"v":-0.19},{"x":937.5,"y":-1437.5,"v":-0.2},{"x":1062.5,"y":-1437.5,"v":-0.2},{"x":1187.5,"y":-1437.5,"v":-0.19},{"x":1312.5,"y":-1437.5,"v":-0.17},{"x":1437.5,"y":-1437.5,"v":-0.16},{"x":1562.5,"y":-1437.5,"v":-0.14},{"x":1687.5,"y":-1437.5,"v":-0.12},{"x":1812.5,"y":-1437.5,"v":-0.1},{"x":1937.5,"y":-1437.5,"v":-0.08},
{"x":-1937.5,"y":-1562.5,"v":0.07},{"x":-1812.5,"y":-1562.5,"v":0.09},{"x":-1687.5,"y":-1562.5,"v":0.1},{"x":-1562.5,"y":-1562.5,"v":0.11},{"x":-1437.5,"y":-1562.5,"v":0.13},{"x":-1312.5,"y":-1562.5,"v":0.14},{"x":-1187.5,"y":-1562.5,"v":0.15},{"x":-1062.5,"y":-1562.5,"v":0.15},{"x":-937.5,"y":-1562.5,"v":0.15},{"x":-812.5,"y":-1562.5,"v":0.15},{"x":-687.5,"y":-1562.5,"v":0.13},{"x":-562.5,"y":-1562.5,"v":0.11},{"x":-437.5,"y":-1562.5,"v":0.09},{"x":-312.5,"y":-1562.5,"v":0.07},{"x":-187.5,"y":-1562.5,"v":0.04},{"x":-62.5,"y":-1562.5,"v":0.01},{"x":62.5,"y":-1562.5,"v":-0.01},{"x":187.5,"y":-1562.5,"v":-0.04},{"x":312.5,"y":-1562.5,"v":-0.07},{"x":437.5,"y":-1562.5,"v":-0.09},{"x":562.5,"y":-1562.5,"v":-0.11},{"x":687.5,"y":-1562.5,"v":-0.13},{"x":812.5,"y":-1562.5,"v":-0.15},{"x":937.5,"y":-1562.5,"v":-0.15},{"x":1062.5,"y":-1562.5,"v":-0.15},{"x":1187.5,"y":-1562.5,"v":-0.15},{"x":1312.5,"y":-1562.5,"v":-0.14},{"x":1437.5,"y":-1562.5,"v":-0.13},{"x":1562.5,"y":-1562.5,"v":-0.11},{"x":1687.5,"y":-1562.5,"v":-0.1},{"x":1812.5,"y":-1562.5,"v":-0.09},{"x":1937.5,"y":-1562.5,"v":-0.07},
{"x":-1937.5,"y":-1687.5,"v":0.07},{"x":-1812.5,"y":-1687.5,"v":0.08},{"x":-1687.5,"y":-1687.5,"v":0.09},{"x":-1562.5,"y":-1687.5,"v":0.1},{"x":-1437.5,"y":-1687.5,"v":0.11},{"x":-1312.5,"y":-1687.5,"v":0.11},{"x":-1187.5,"y":-1687.5,"v":0.12},{"x":-1062.5,"y":-1687.5,"v":0.12},{"x":-937.5,"y":-1687.5,"v":0.12},{"x":-812.5,"y":-1687.5,"v":0.11},{"x":-687.5,"y":-1687.5,"v":0.1},{"x":-562.5,"y":-1687.5,"v":0.09},{"x":-437.5,"y":-1687.5,"v":0.07},{"x":-312.5,"y":-1687.5,"v":0.05},{"x":-187.5,"y":-1687.5,"v":0.03},{"x":-62.5,"y":-1687.5,"v":0.01},{"x":62.5,"y":-1687.5,"v":-0.01},{"x":187.5,"y":-1687.5,"v":-0.03},{"x":312.5,"y":-1687.5,"v":-0.05},{"x":437.5,"y":-1687.5,"v":-0.07},{"x":562.5,"y":-1687.5,"v":-0.09},{"x":687.5,"y":-1687.5,"v":-0.1},{"x":812.5,"y":-1687.5,"v":-0.11},{"x":937.5,"y":-1687.5,"v":-0.12},{"x":1062.5,"y":-1687.5,"v":-0.12},{"x":1187.5,"y":-1687.5,"v":-0.12},{"x":1312.5,"y":-1687.5,"v":-0.11},{"x":1437.5,"y":-1687.5,"v":-0.11},{"x":1562.5,"y":-1687.5,"v":-0.1},{"x":1687.5,"y":-1687.5,"v":-0.09},{"x":1812.5,"y":-1687.5,"v":-0.08},{"x":1937.5,"y":-1687.5,"v":-0.07},
{"x":-1937.5,"y":-1812.5,"v":0.06},{"x":-1812.5,"y":-1812.5,"v":0.06},{"x":-1687.5,"y":-1812.5,"v":0.07},{"x":-1562.5,"y":-1812.5,"v":0.08},{"x":-1437.5,"y":-1812.5,"v":0.09},{"x":-1312.5,"y":-1812.5,"v":0.09},{"x":-1187.5,"y":-1812.5,"v":0.1},{"x":-1062.5,"y":-1812.5,"v":0.1},{"x":-937.5,"y":-1812.5,"v":0.09},{"x":-812.5,"y":-1812.5,"v":0.09},{"x":-687.5,"y":-1812.5,"v":0.08},{"x":-562.5,"y":-1812.5,"v":0.07},{"x":-437.5,"y":-1812.5,"v":0.06},{"x":-312.5,"y":-1812.5,"v":0.04},{"x":-187.5,"y":-1812.5,"v":0.03},{"x":-62.5,"y":-1812.5,"v":0.01},{"x":62.5,"y":-1812.5,"v":-0.01},{"x":187.5,"y":-1812.5,"v":-0.03},{"x":312.5,"y":-1812.5,"v":-0.04},{"x":437.5,"y":-1812.5,"v":-0.06},{"x":562.5,"y":-1812.5,"v":-0.07},{"x":687.5,"y":-1812.5,"v":-0.08},{"x":812.5,"y":-1812.5,"v":-0.09},{"x":937.5,"y":-1812.5,"v":-0.09},{"x":1062.5,"y":-1812.5,"v":-0.1},{"x":1187.5,"y":-1812.5,"v":-0.1},{"x":1312.5,"y":-1812.5,"v":-0.09},{"x":1437.5,"y":-1812.5,"v":-0.09},{"x":1562.5,"y":-1812.5,"v":-0.08},{"x":1687.5,"y":-1812.5,"v":-0.07},{"x":1812.5,"y":-1812.5,"v":-0.06},{"x":1937.5,"y":-1812.5,"v":-0.06},
{"x":-1937.5,"y":-1937.5,"v":0.05},{"x":-1812.5,"y":-1937.5,"v":0.06},{"x":-1687.5,"y":-1937.5,"v":0.06},{"x":-1562.5,"y":-1937.5,"v":0.07},{"x":-1437.5,"y":-1937.5,"v":0.07},{"x":-1312.5,"y":-1937.5,"v":0.07},{"x":-1187.5,"y":-1937.5,"v":0.08},{"x":-1062.5,"y":-1937.5,"v":0.08},{"x":-937.5,"y":-1937.5,"v":0.07},{"x":-812.5,"y":-1937.5,"v":0.07},{"x":-687.5,"y":-1937.5,"v":0.06},{"x":-562.5,"y":-1937.5,"v":0.05},{"x":-437.5,"y":-1937.5,"v":0.04},{"x":-312.5,"y":-1937.5,"v":0.03},{"x":-187.5,"y":-1937.5,"v":0.02},{"x":-62.5,"y":-1937.5,"v":0.01},{"x":62.5,"y":-1937.5,"v":-0.01},{"x":187.5,"y":-1937.5,"v":-0.02},{"x":312.5,"y":-1937.5,"v":-0.03},{"x":437.5,"y":-1937.5,"v":-0.04},{"x":562.5,"y":-1937.5,"v":-0.05},{"x":687.5,"y":-1937.5,"v":-0.06},{"x":812.5,"y":-1937.5,"v":-0.07},{"x":937.5,"y":-1937.5,"v":-0.07},{"x":1062.5,"y":-1937.5,"v":-0.08},{"x":1187.5,"y":-1937.5,"v":-0.08},{"x":1312.5,"y":-1937.5,"v":-0.07},{"x":1437.5,"y":-1937.5,"v":-0.07},{"x":1562.5,"y":-1937.5,"v":-0.07},{"x":1687.5,"y":-1937.5,"v":-0.06},{"x":1812.5,"y":-1937.5,"v":-0.06},{"x":1937.5,"y":-1937.5,"v":-0.05}
]},
"layer": [
{
"data": {"name": "grid"},
"mark": {"type": "rect", "binSpacing": 0, "strokeWidth": 0.6, "clip": true},
"encoding": {
"x": {"field": "x", "type": "quantitative", "bin": {"extent": [-2031.25, 1968.75], "step": 125, "nice": false}, "scale": {"domain": [-2000, 2000], "nice": false, "zero": false},
 "axis": {"orient": "bottom", "title": "Easting (m)", "values": [-2000, -1000, 0, 1000, 2000], "format": "d", "labelFlush": false, "labelOverlap": false, "labelFont": "DejaVu Sans", "labelFontSize": 16.5, "labelColor": "#000", "labelPadding": 2, "tickSize": 5, "tickColor": "#222", "domainColor": "#222", "titleFont": "DejaVu Sans", "titleFontSize": 16.5, "titleFontWeight": "normal", "titleColor": "#000", "titlePadding": 8, "grid": false}},
"y": {"field": "y", "type": "quantitative", "bin": {"extent": [-2031.25, 1968.75], "step": 125, "nice": false}, "scale": {"domain": [-2000, 2000], "nice": false, "zero": false},
 "axis": {"title": "(b)", "titleAngle": 0, "titleX": -39, "titleY": -44, "titleAlign": "left", "titleBaseline": "alphabetic", "titleFont": "DejaVu Sans", "titleFontSize": 25, "titleFontWeight": "normal", "titleColor": "#000", "labels": false, "ticks": false, "domain": false, "grid": false}},
"fill": {"field": "v", "type": "quantitative", "scale": {"scheme": "redblue", "domain": [-0.88, 0.88], "clamp": true}, "legend": null},
"stroke": {"field": "v", "type": "quantitative", "scale": {"scheme": "redblue", "domain": [-0.88, 0.88], "clamp": true}, "legend": null}
}
},
{
"data": {"name": "grid"},
"mark": {"type": "rect", "binSpacing": 0, "strokeWidth": 0, "opacity": 0.5, "clip": true},
"encoding": {
"x": {"field": "x", "type": "quantitative", "bin": {"extent": [-1968.75, 2031.25], "step": 125, "nice": false}, "scale": {"domain": [-2000, 2000], "nice": false, "zero": false}, "axis": null},
"y": {"field": "y", "type": "quantitative", "bin": {"extent": [-1968.75, 2031.25], "step": 125, "nice": false}, "scale": {"domain": [-2000, 2000], "nice": false, "zero": false},
 "axis": {"title": "(b)", "titleAngle": 0, "titleX": -39, "titleY": -44, "titleAlign": "left", "titleBaseline": "alphabetic", "titleFont": "DejaVu Sans", "titleFontSize": 25, "titleFontWeight": "normal", "titleColor": "#000", "labels": false, "ticks": false, "domain": false, "grid": false}},
"fill": {"field": "v", "type": "quantitative", "scale": {"scheme": "redblue", "domain": [-0.88, 0.88], "clamp": true}, "legend": null}
}
},
{
"data": {"values": [{"xa": -1000, "xb": 1000, "ya": 450, "yb": 1050}, {"xa": -1000, "xb": 1000, "ya": -1000, "yb": -400}]},
"mark": {"type": "rect", "filled": false, "stroke": "#000", "strokeWidth": 2.5, "strokeDash": [9.3, 4]},
"encoding": {
"x": {"field": "xa", "type": "quantitative", "scale": {"domain": [-2000, 2000], "nice": false, "zero": false},
 "axis": {"orient": "top", "title": "Re[Tzy] (ZTEM)", "labels": false, "ticks": false, "domain": false, "grid": false, "titleFont": "DejaVu Sans", "titleFontSize": 25, "titleFontWeight": "normal", "titleColor": "#000", "titleX": 134, "titleY": -13, "titleAlign": "center", "titleBaseline": "alphabetic"}},
"x2": {"field": "xb"},
"y": {"field": "ya", "type": "quantitative", "scale": {"domain": [-2000, 2000], "nice": false, "zero": false},
 "axis": {"title": "(b)", "titleAngle": 0, "titleX": -39, "titleY": -44, "titleAlign": "left", "titleBaseline": "alphabetic", "titleFont": "DejaVu Sans", "titleFontSize": 25, "titleFontWeight": "normal", "titleColor": "#000", "labels": false, "ticks": false, "domain": false, "grid": false}},
"y2": {"field": "yb"}
}
}
]
}
